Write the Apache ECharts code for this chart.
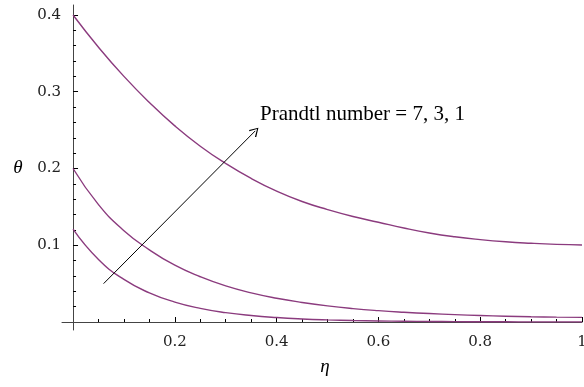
<!DOCTYPE html>
<html>
<head>
<meta charset="utf-8">
<script src="https://cdn.jsdelivr.net/npm/echarts@6/dist/echarts.min.js"></script>
<style>
  html, body { margin: 0; padding: 0; background: #fff; }
  #main { width: 584px; height: 387px; }
</style>
</head>
<body>
<div id="main"></div>
<script>
// eta values and the three temperature profiles
const eta = [0, 0.05, 0.1, 0.15, 0.2, 0.25, 0.3, 0.35, 0.4, 0.45, 0.5,
             0.55, 0.6, 0.65, 0.7, 0.75, 0.8, 0.85, 0.9, 0.95, 1];
const thetaPr1 = [0.400, 0.358, 0.320, 0.286, 0.2555, 0.229, 0.2065, 0.187, 0.1705, 0.157, 0.1465,
                  0.1375, 0.130, 0.1225, 0.116, 0.111, 0.1073, 0.1045, 0.1026, 0.1012, 0.1004];
const thetaPr3 = [0.200, 0.153, 0.119, 0.094, 0.074, 0.059, 0.047, 0.038, 0.031, 0.0255, 0.021,
                  0.0175, 0.0148, 0.0127, 0.011, 0.0096, 0.0085, 0.0076, 0.0069, 0.0064, 0.0061];
const thetaPr7 = [0.121, 0.0815, 0.0555, 0.038, 0.026, 0.0178, 0.0122, 0.0084, 0.0058, 0.004, 0.0028,
                  0.002, 0.0014, 0.001, 0.0007, 0.0005, 0.0004, 0.0003, 0.0002, 0.0002, 0.0002];

const xMajor = [0.2, 0.4, 0.6, 0.8, 1];
const xMinor = [0.05, 0.1, 0.15, 0.25, 0.3, 0.35, 0.45, 0.5, 0.55, 0.65, 0.7, 0.75, 0.85, 0.9, 0.95];
const yMajor = [0.1, 0.2, 0.3, 0.4];
const yMinor = [0.02, 0.04, 0.06, 0.08, 0.12, 0.14, 0.16, 0.18, 0.22, 0.24, 0.26, 0.28, 0.32, 0.34, 0.36, 0.38];

const arrowFrom = [0.06, 0.05];
const arrowTo = [0.358, 0.249];

const serif = '"Liberation Serif", "DejaVu Serif", serif';
const tickFont = '"DejaVu Serif", serif';
const axisColor = '#444';
const curveColor = '#8b3b7e';

const chart = echarts.init(document.getElementById('main'));

const pairs = ys => eta.map((x, i) => [x, ys[i]]);

const curve = (name, ys) => ({
    name: name,
    type: 'line',
    smooth: true,
    showSymbol: false,
    data: pairs(ys),
    lineStyle: { color: curveColor, width: 1.4 },
    animation: false
});

const option = {
    animation: false,
    grid: { left: 62, right: 2, top: 5, bottom: 57, outerBoundsMode: 'none', containLabel: false },
    xAxis: [
        {
            type: 'value',
            min: -0.0217,
            max: 1,
            axisLine: { onZero: true, lineStyle: { color: axisColor, width: 1 } },
            axisTick: { inside: true, length: 5, customValues: xMajor, lineStyle: { color: '#000' } },
            axisLabel: {
                customValues: xMajor,
                margin: 5,
                fontFamily: tickFont,
                fontSize: 15,
                color: '#222',
                formatter: v => String(+v.toFixed(1))
            },
            splitLine: { show: false }
        },
        {
            type: 'value',
            min: -0.0217,
            max: 1,
            position: 'bottom',
            axisLine: { show: false },
            axisTick: { inside: true, length: 3, customValues: xMinor, lineStyle: { color: '#000' } },
            axisLabel: { show: false },
            splitLine: { show: false }
        }
    ],
    yAxis: [
        {
            type: 'value',
            min: -0.0104,
            max: 0.413,
            axisLine: { onZero: true, lineStyle: { color: axisColor, width: 1 } },
            axisTick: { inside: true, length: 5, customValues: yMajor, lineStyle: { color: '#000' } },
            axisLabel: {
                customValues: yMajor,
                margin: 1,
                fontFamily: tickFont,
                fontSize: 15,
                color: '#222',
                formatter: v => v.toFixed(1)
            },
            splitLine: { show: false }
        },
        {
            type: 'value',
            min: -0.0104,
            max: 0.413,
            position: 'left',
            offset: -11,
            axisLine: { show: false },
            axisTick: { inside: true, length: 3, customValues: yMinor, lineStyle: { color: '#000' } },
            axisLabel: { show: false },
            splitLine: { show: false }
        }
    ],
    series: [
        Object.assign(curve('Pr = 1', thetaPr1), {
            markLine: {
                silent: true,
                animation: false,
                symbol: ['none', 'path://M5,0 L10,9 L9,10 L5,2.2 L1,10 L0,9 Z'],
                symbolSize: [10, 9],
                lineStyle: { color: '#000', width: 1, type: 'solid' },
                label: { show: false },
                data: [[{ coord: arrowFrom }, { coord: arrowTo }]]
            }
        }),
        curve('Pr = 3', thetaPr3),
        curve('Pr = 7', thetaPr7)
    ],
    graphic: [
        {
            type: 'text',
            left: 260,
            top: 104,
            style: {
                text: 'Prandtl number = 7, 3, 1',
                font: '21px ' + serif,
                fill: '#000'
            }
        },
        {
            type: 'text',
            x: 18,
            y: 168,
            style: {
                text: 'θ',
                font: 'italic 19px ' + serif,
                fill: '#000',
                align: 'center',
                verticalAlign: 'middle'
            }
        },
        {
            type: 'text',
            x: 325,
            y: 367,
            style: {
                text: 'η',
                font: 'italic 19px ' + serif,
                fill: '#000',
                align: 'center',
                verticalAlign: 'middle'
            }
        }
    ]
};

option && chart.setOption(option);
</script>
</body>
</html>
